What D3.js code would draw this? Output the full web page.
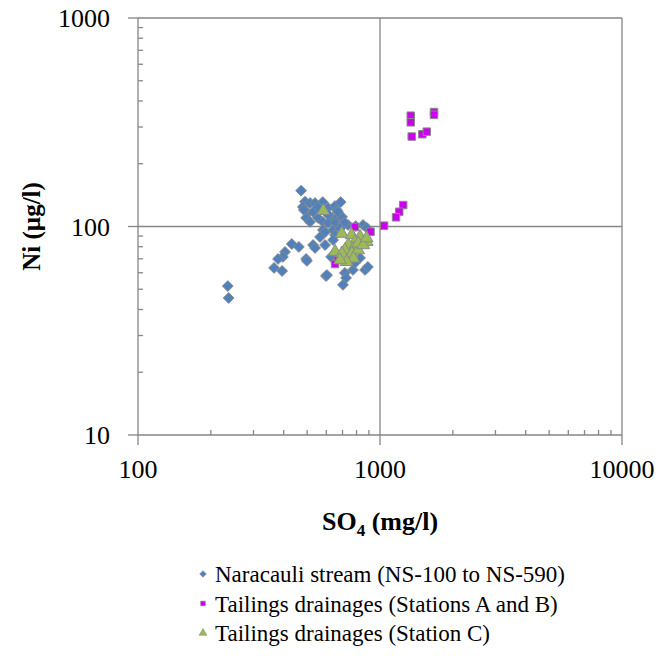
<!DOCTYPE html>
<meta charset="utf-8">
<style>
body { margin: 0; background: #fff; }
svg text { font-family: "Liberation Serif", "Times New Roman", Times, "DejaVu Serif", serif; fill: #000; }
.grid { stroke: #868686; stroke-width: 1.3px; }
</style>
<body>
<svg width="659" height="656" font-family="Liberation Serif, serif"></svg>
<script src="https://cdnjs.cloudflare.com/ajax/libs/d3/7.8.5/d3.min.js"></script>
<script>

// Naracauli stream (NS-100 to NS-590): [SO4 mg/l, Ni ug/l]
var naracauli = [
  [472,148.5],[490,131.5],[480,124],[514,129.6],[539,129.6],[580,131],[610,122.8],[652,125.4],
  [688,131],[664,120],[504,116.2],[529,117.5],[495,110],[514,105.2],[554,110],[581,105.2],
  [634,110],[664,110],[697,111.2],[610,104],[652,104],[703,104],[738,101.7],[581,96.2],
  [565,89],[640,96.2],[652,91],[640,86.1],[851,101.7],[883,98.4],[432,82.4],[462,79.8],
  [405,75.5],[397,71.5],[379,69.9],[365,63.3],[394,61.2],[495,69.9],[499,68.4],[529,81.5],
  [539,78.9],[593,81.5],[598,57.9],[628,71.5],[716,59.9],[724,56.7],[703,52.5],[773,61.9],
  [827,70.7],[867,61.9],[891,64],[788,66.9],[235,51.8],[237,45.4],[593,94],[604,58.5],
  [760,69],[670,117.5],[716,104],[610,114],[485,120],[554,124],[794,100.5],[684,98]
];

// Tailings drainages (Stations A and B)
var stationsAB = [
  [1340,340],[1340,316],[1352,270],[1496,277],[1561,285],[1672,354],[1672,343],
  [1247,126.7],[1201,117.7],[1165,110.7],[1040,100.9],[914,94.4],[788,99.5],[670,70.3],[652,66.1]
];

// Tailings drainages (Station C)
var stationC = [
  [583,119],[695,92.5],[764,91],[827,89.3],[788,84.5],[881,84.5],[740,81.5],[776,78.5],
  [716,77.1],[652,75.7],[695,74.3],[764,74.3],[813,77.1],[776,70.3],[728,67.7],[684,69],
  [813,83],[853,81.5],[881,88]
];

var xTicks = [100, 1000, 10000];
var yTicks = [10, 100, 1000];
var legendLabels = [
  "Naracauli stream (NS-100 to NS-590)",
  "Tailings drainages (Stations A and B)",
  "Tailings drainages (Station C)"
];

var svg = d3.select("svg");
var mLeft = 138, mRight = 622, mTop = 18, mBottom = 435;

var x = d3.scaleLog().domain([100, 10000]).range([mLeft, mRight]);
var y = d3.scaleLog().domain([10, 1000]).range([mBottom, mTop]);

// gridlines at major ticks
svg.selectAll(".gx").data(xTicks.slice(1)).enter().append("line")
  .attr("class", "grid")
  .attr("x1", d => x(d)).attr("x2", d => x(d))
  .attr("y1", mTop).attr("y2", mBottom);
svg.selectAll(".gy").data(yTicks.slice(1)).enter().append("line")
  .attr("class", "grid")
  .attr("x1", mLeft).attr("x2", mRight)
  .attr("y1", d => y(d)).attr("y2", d => y(d));

// axes: major ticks outside, minor ticks inside
var minorX = d3.range(2, 10).map(d => d * 100).concat(d3.range(2, 10).map(d => d * 1000));
var minorY = d3.range(2, 10).map(d => d * 10).concat(d3.range(2, 10).map(d => d * 100));

var xAxis = svg.append("g").attr("transform", "translate(0," + mBottom + ")");
xAxis.append("line").attr("class", "grid").attr("x1", mLeft).attr("x2", mRight);
xAxis.selectAll(".mj").data(xTicks).enter().append("line").attr("class", "grid")
  .attr("x1", d => x(d)).attr("x2", d => x(d)).attr("y1", 0).attr("y2", 10);
xAxis.selectAll(".mn").data(minorX).enter().append("line").attr("class", "grid")
  .attr("x1", d => x(d)).attr("x2", d => x(d)).attr("y1", 0).attr("y2", -5);
xAxis.selectAll(".lb").data(xTicks).enter().append("text")
  .attr("x", d => x(d)).attr("y", 43)
  .attr("text-anchor", "middle").attr("font-size", 26)
  .text(d => d);

var yAxis = svg.append("g").attr("transform", "translate(" + mLeft + ",0)");
yAxis.append("line").attr("class", "grid").attr("y1", mTop).attr("y2", mBottom);
yAxis.selectAll(".mj").data(yTicks).enter().append("line").attr("class", "grid")
  .attr("y1", d => y(d)).attr("y2", d => y(d)).attr("x1", 0).attr("x2", -10);
yAxis.selectAll(".mn").data(minorY).enter().append("line").attr("class", "grid")
  .attr("y1", d => y(d)).attr("y2", d => y(d)).attr("x1", 0).attr("x2", 5);
yAxis.selectAll(".lb").data(yTicks).enter().append("text")
  .attr("x", -28).attr("y", d => y(d)).attr("dy", "0.35em")
  .attr("text-anchor", "end").attr("font-size", 26)
  .text(d => d);

// axis titles
svg.append("text")
  .attr("transform", "translate(40," + ((mTop + mBottom) / 2) + ") rotate(-90)")
  .attr("text-anchor", "middle").attr("font-size", 25).attr("font-weight", "bold")
  .text("Ni (µg/l)");

var xt = svg.append("text")
  .attr("x", (mLeft + mRight) / 2).attr("y", 530)
  .attr("text-anchor", "middle").attr("font-size", 26).attr("font-weight", "bold");
xt.append("tspan").text("SO");
xt.append("tspan").attr("font-size", 17).attr("dy", 6).text("4");
xt.append("tspan").attr("dy", -6).text(" (mg/l)");

// markers
var diamond = d3.symbol().type(d3.symbolDiamond2).size(75);
var square = d3.symbol().type(d3.symbolSquare).size(56);
var triangle = d3.symbol().type(d3.symbolTriangle).size(70);

function drawSeries(data, sym, fill) {
  svg.append("g").selectAll("path").data(data).enter().append("path")
    .attr("d", sym)
    .attr("transform", d => "translate(" + x(d[0]) + "," + y(d[1]) + ")")
    .attr("fill", fill)
    .attr("stroke", "#8a8a8a")
    .attr("stroke-width", 1);
}
drawSeries(naracauli, diamond, "#4f81bd");
drawSeries(stationsAB, square, "#cc00ee");
drawSeries(stationC, triangle, "#9bbb59");

// legend
var legSyms = [
  d3.symbol().type(d3.symbolDiamond2).size(28),
  d3.symbol().type(d3.symbolSquare).size(22),
  d3.symbol().type(d3.symbolTriangle).size(26)
];
var legCols = ["#4f81bd", "#cc00ee", "#9bbb59"];
var leg = svg.append("g");
legendLabels.forEach(function(lab, i) {
  var cy = 574 + i * 29.5;
  leg.append("path").attr("d", legSyms[i])
    .attr("transform", "translate(203," + cy + ")")
    .attr("fill", legCols[i]).attr("stroke", "#8a8a8a").attr("stroke-width", 0.6);
  leg.append("text").attr("x", 215).attr("y", cy).attr("dy", "0.35em")
    .attr("font-size", 23).text(lab);
});

</script>
</body>
